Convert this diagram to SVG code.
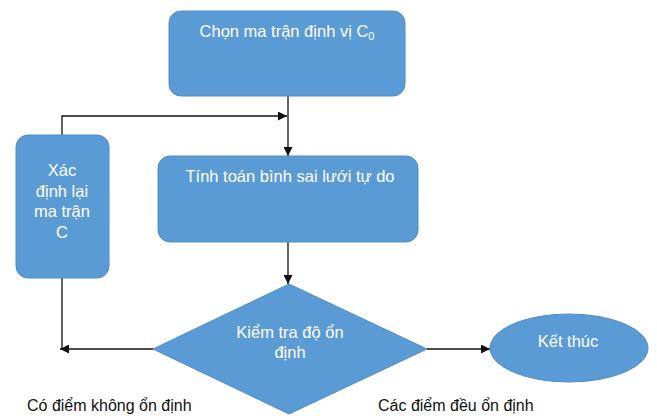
<svg xmlns="http://www.w3.org/2000/svg" width="657" height="416" viewBox="0 0 657 416">
<style>
.n{fill:#5b9bd5;stroke:#4f8cc6;stroke-width:1}
.t{font-family:"Liberation Sans",Arial,sans-serif;font-size:16.5px;fill:#fff;text-anchor:middle}
.l{font-family:"Liberation Sans",Arial,sans-serif;font-size:16px;fill:#111}
.c{fill:none;stroke:#111;stroke-width:1.3}
</style>
<defs>
<marker id="a" viewBox="0 0 10 10" refX="10" refY="5" markerWidth="9" markerHeight="9" markerUnits="userSpaceOnUse" orient="auto"><path d="M0,0L10,5L0,10z" fill="#111"/></marker>
</defs>
<rect width="657" height="416" fill="#fff"/>
<g id="connectors">
<path class="c" d="M288,96V156" marker-end="url(#a)"/>
<path class="c" d="M62,135V116H287" marker-end="url(#a)"/>
<path class="c" d="M288,242V284" marker-end="url(#a)"/>
<path class="c" d="M153,349H60" marker-end="url(#a)"/>
<path class="c" d="M62,278V349"/>
<path class="c" d="M427,349H490" marker-end="url(#a)"/>
</g>
<g id="n1"><rect class="n" x="169" y="11" width="236" height="85" rx="12"/><text class="t" x="287" y="37">Chọn ma trận định vị C<tspan font-size="11" dy="3">0</tspan></text></g>
<g id="n2"><rect class="n" x="158" y="156" width="260" height="86" rx="12"/><text class="t" x="290" y="182">Tính toán bình sai lưới tự do</text></g>
<g id="n3"><rect class="n" x="16" y="135" width="93" height="143" rx="12"/><text class="t" x="62" y="176">Xác</text><text class="t" x="62" y="197">định lại</text><text class="t" x="62" y="217">ma trận</text><text class="t" x="62" y="238">C</text></g>
<g id="n4"><polygon class="n" points="289,284 427,349 289,414 153,349"/><text class="t" x="290" y="338">Kiểm tra độ ổn</text><text class="t" x="290" y="358">định</text></g>
<g id="n5"><ellipse class="n" cx="569" cy="348" rx="79" ry="34"/><text class="t" x="568" y="347">Kết thúc</text></g>
<text class="l" x="27" y="411">Có điểm không ổn định</text>
<text class="l" x="378" y="411">Các điểm đều ổn định</text>
</svg>
